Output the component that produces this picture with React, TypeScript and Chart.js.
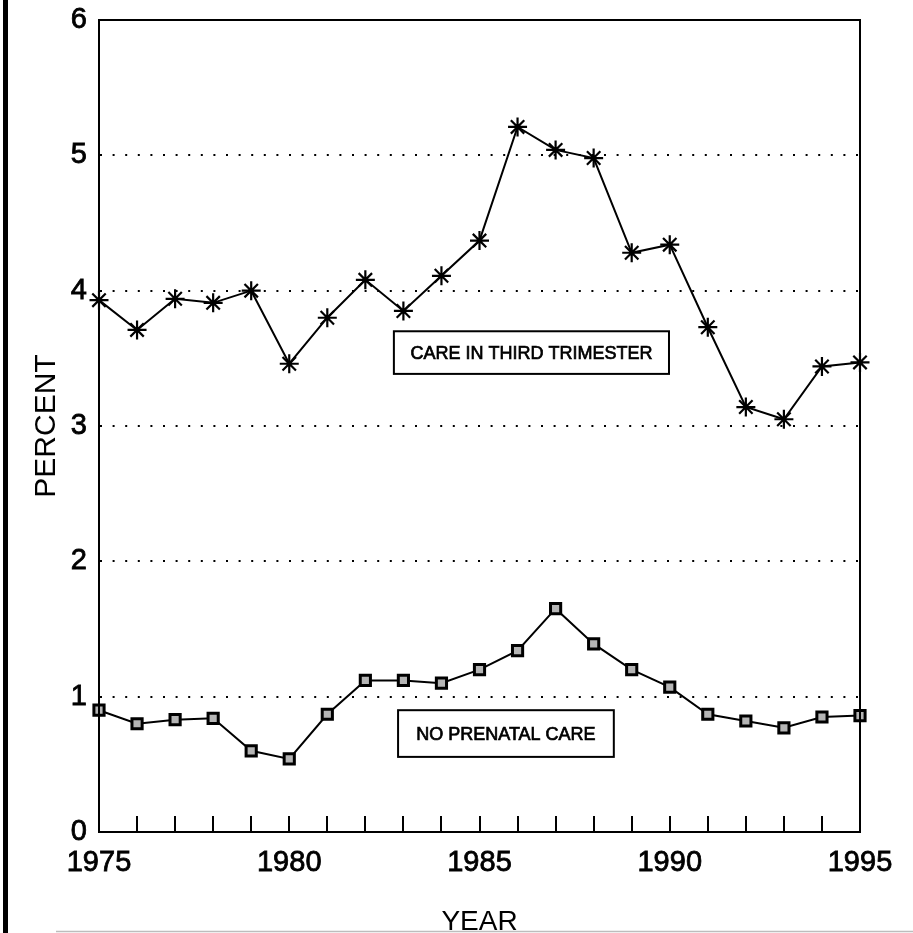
import React, { useEffect, useRef } from "react";
import { Chart, registerables } from "chart.js";

Chart.register(...registerables);

const years = [1975, 1976, 1977, 1978, 1979, 1980, 1981, 1982, 1983, 1984, 1985, 1986, 1987, 1988, 1989, 1990, 1991, 1992, 1993, 1994, 1995];
const thirdTrimester = [3.93, 3.71, 3.94, 3.91, 4.0, 3.46, 3.8, 4.08, 3.85, 4.11, 4.37, 5.21, 5.04, 4.98, 4.28, 4.34, 3.73, 3.14, 3.05, 3.44, 3.47];
const noPrenatal = [0.9, 0.8, 0.83, 0.84, 0.6, 0.54, 0.87, 1.12, 1.12, 1.1, 1.2, 1.34, 1.65, 1.39, 1.2, 1.07, 0.87, 0.82, 0.77, 0.85, 0.86];
const yTicks = [0, 1, 2, 3, 4, 5, 6];
const xLabelYears = [1975, 1980, 1985, 1990, 1995];

// label boxes in data coordinates
const boxLabels = [
  { text: "CARE IN THIRD TRIMESTER", x0: 1982.75, x1: 1989.98, y0: 3.7, y1: 3.385 },
  { text: "NO PRENATAL CARE", x0: 1982.86, x1: 1988.53, y0: 0.9, y1: 0.555 },
];

const FONT = "'Liberation Sans', Arial, Helvetica, sans-serif";

const zeroPad = (s: any) => {
  s.paddingTop = 0;
  s.paddingBottom = 0;
  s.paddingLeft = 0;
  s.paddingRight = 0;
};

const decorPlugin = {
  id: "decor",
  beforeDraw(chart: any) {
    const { ctx, width, height } = chart;
    ctx.save();
    ctx.fillStyle = "#ffffff";
    ctx.fillRect(0, 0, width, height);
    ctx.fillStyle = "#000";
    ctx.fillRect(3, 0, 5, height);
    ctx.strokeStyle = "#bdbdbd";
    ctx.lineWidth = 1.5;
    ctx.beginPath();
    ctx.moveTo(56, height - 1.5);
    ctx.lineTo(width, height - 1.5);
    ctx.stroke();
    ctx.restore();
  },
  afterDraw(chart: any) {
    const { ctx, chartArea } = chart;
    ctx.save();
    ctx.strokeStyle = "#000";
    ctx.lineWidth = 2;
    ctx.strokeRect(chartArea.left, chartArea.top, chartArea.right - chartArea.left, chartArea.bottom - chartArea.top);
    const xs = chart.scales.x;
    const ys = chart.scales.y;
    ctx.font = `18px ${FONT}`;
    ctx.textAlign = "center";
    ctx.textBaseline = "middle";
    for (const b of boxLabels) {
      const l = xs.getPixelForValue(b.x0);
      const r = xs.getPixelForValue(b.x1);
      const t = ys.getPixelForValue(b.y0);
      const bt = ys.getPixelForValue(b.y1);
      ctx.fillStyle = "#fff";
      ctx.fillRect(l, t, r - l, bt - t);
      ctx.lineWidth = 2;
      ctx.strokeStyle = "#000";
      ctx.strokeRect(l, t, r - l, bt - t);
      ctx.fillStyle = "#000";
      ctx.lineWidth = 0.7;
      ctx.strokeText(b.text, (l + r) / 2, (t + bt) / 2 + 1);
      ctx.fillText(b.text, (l + r) / 2, (t + bt) / 2 + 1);
    }
    ctx.restore();
  },
};

export default function App() {
  const ref = useRef<HTMLCanvasElement>(null);
  useEffect(() => {
    if (!ref.current) return;
    const chart = new Chart(ref.current, {
      type: "line",
      data: {
        datasets: [
          {
            label: "CARE IN THIRD TRIMESTER",
            data: years.map((y, i) => ({ x: y, y: thirdTrimester[i] })),
            borderColor: "#000",
            borderWidth: 2,
            pointStyle: "star",
            pointRadius: 9.5,
            pointBorderWidth: 2.2,
            pointBorderColor: "#000",
            pointBackgroundColor: "#000",
            tension: 0,
            clip: false as any,
          },
          {
            label: "NO PRENATAL CARE",
            data: years.map((y, i) => ({ x: y, y: noPrenatal[i] })),
            borderColor: "#000",
            borderWidth: 2,
            pointStyle: "rect",
            pointRadius: 7.2,
            pointBorderWidth: 3,
            pointBorderColor: "#000",
            pointBackgroundColor: "#b5b5b5",
            tension: 0,
            clip: false as any,
          },
        ],
      },
      options: {
        animation: false,
        responsive: false,
        devicePixelRatio: 1,
        layout: { padding: { left: 0, top: 20, right: 53, bottom: 0 } },
        plugins: { legend: { display: false }, tooltip: { enabled: false } },
        scales: {
          x: {
            type: "linear",
            min: 1975,
            max: 1995,
            afterFit: (s: any) => {
              s.height = 101;
              zeroPad(s);
            },
            afterBuildTicks: (s: any) => {
              s.ticks = years.map((v) => ({ value: v }));
            },
            ticks: {
              autoSkip: false,
              maxRotation: 0,
              padding: 30,
              color: "#000",
              textStrokeColor: "#000",
              textStrokeWidth: 0.8,
              font: { family: FONT, size: 29 },
              callback: (v: any) => (xLabelYears.includes(Number(v)) ? String(v) : ""),
            },
            grid: {
              drawOnChartArea: false,
              drawTicks: true,
              tickLength: -16,
              color: "#000",
              lineWidth: 2,
            },
            border: { display: true, color: "#000", width: 2 },
            title: {
              display: true,
              text: "YEAR",
              color: "#000",
              font: { family: FONT, size: 28, lineHeight: 0.8 },
              padding: { top: 0, bottom: 0 },
            },
          },
          y: {
            min: 0,
            max: 6,
            afterFit: (s: any) => {
              s.width = 99;
              zeroPad(s);
            },
            afterBuildTicks: (s: any) => {
              s.ticks = yTicks.map((v) => ({ value: v }));
            },
            ticks: {
              padding: 12,
              color: "#000",
              textStrokeColor: "#000",
              textStrokeWidth: 0.8,
              font: { family: FONT, size: 29 },
            },
            grid: {
              drawTicks: false,
              lineWidth: 2,
              color: (c: any) => (c.tick && (c.tick.value === 0 || c.tick.value === 6) ? "rgba(0,0,0,0)" : "#000"),
            },
            border: { display: true, color: "#000", width: 2, dash: [2, 10.6] },
            title: {
              display: true,
              text: "PERCENT",
              color: "#000",
              font: { family: FONT, size: 30, lineHeight: 1.2 },
              padding: { top: 29, bottom: 0 },
            },
          },
        },
      },
      plugins: [decorPlugin],
    });
    return () => chart.destroy();
  }, []);
  return (
    <div style={{ position: "fixed", left: 0, top: 0, width: 913, height: 933, background: "#fff" }}>
      <canvas ref={ref} width={913} height={933} style={{ display: "block" }} />
    </div>
  );
}
